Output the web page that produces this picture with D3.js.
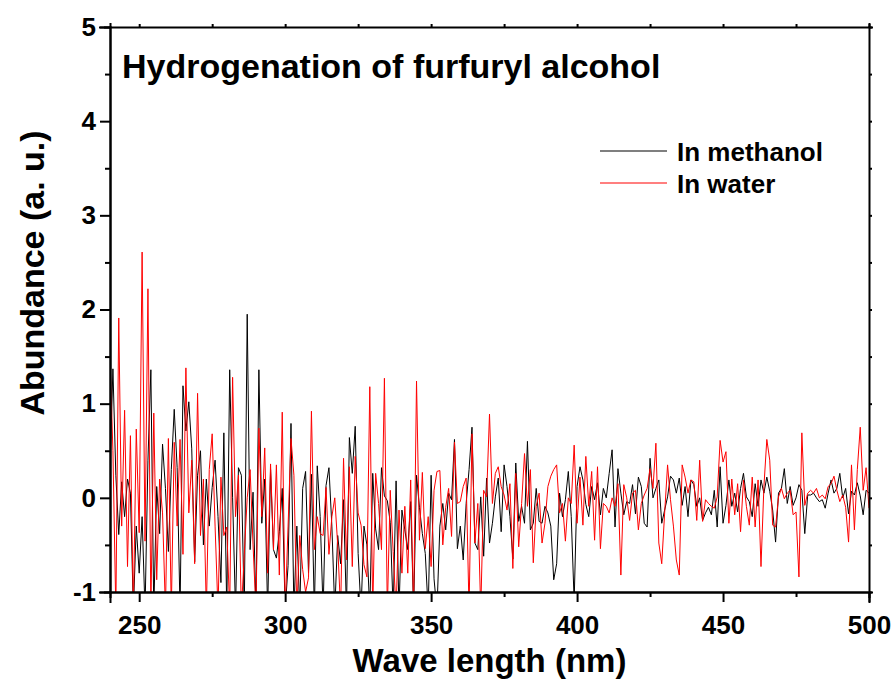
<!DOCTYPE html>
<html lang="en">
<head>
  <meta charset="UTF-8">
  <title>Hydrogenation of furfuryl alcohol</title>
  <script src="https://d3js.org/d3.v7.min.js"></script>
  <style>
    body {
      margin: 0;
      background-color: #fff;
    }
    text {
      font-family: "Liberation Sans", Arial, sans-serif;
      font-weight: bold;
      fill: #000;
    }
    .axis path, .axis line {
      stroke: #000;
      stroke-width: 2px;
    }
    .trace {
      fill: none;
      stroke-width: 1px;
    }
  </style>
</head>
<body>
  <svg id="chart" width="896" height="691"></svg>

  <script>
    // wavelength grid, 1 nm step
    const wavelengths = d3.range(240, 501, 1);

    // In methanol (black), 240..500 nm
    const methanol = [
      0.3, 1.37, 0.24, -0.39, 0.17, -0.2, 0.2, 0.05, -1.2, -0.3,
      -0.8, -0.2, -1.2, 0.4, 1.36, -1.2, 0.12, -0.38, 0.57, 0.1,
      -0.57, 0.3, 0.94, 0.32, -1.2, 1.19, 0.71, 1.02, 0.52, -0.68,
      0.24, 0.5, -0.5, 0.2, -0.3, 0.11, 0.4, -0.2, -0.9, 0.69,
      -1.2, 1.36, 0.0, -1.2, 0.32, 0.24, -1.2, 1.95, -0.55, 0.06,
      -1.2, 1.36, -0.27, 0.2, -1.2, 0.3, -0.55, -0.64, -0.36, 0.1,
      -1.2, -0.72, 0.79, -1.2, -0.3, -1.2, 0.1, 0.28, -0.8, 0.25,
      -1.2, 0.34, -0.2, -1.2, 0.13, 0.32, -0.3, -1.2, -0.4, -0.7,
      -0.02, -1.2, 0.64, 0.26, 0.76, -0.59, -1.2, -0.3, -0.5, -1.2,
      0.26, -0.33, -0.55, 0.32, 0.02, -0.03, -0.26, -1.2, 0.18, -1.2,
      -0.13, -0.34, -0.55, -0.04, -1.2, 0.24, -0.1, -0.38, -0.59, -1.2,
      0.24, -0.86, -1.2, -0.3, -0.06, -0.34, 0.05, -0.02, 0.62, -0.54,
      -0.3, -0.66, -0.06, 0.3, 0.75, -0.48, -0.55, 0.01, -0.62, 0.21,
      -0.48, -0.27, 0.01, 0.21, -0.36, 0.35, 0.12, -0.2, -0.65, 0.37,
      -0.25, -0.09, -0.27, 0.6, -0.34, -0.27, 0.1, -0.25, -0.27, -0.09,
      -0.16, -0.3, -0.87, -0.7, 0.05, -0.2, -0.02, 0.28, -0.2, -1.1,
      0.12, 0.33, 0.19, -0.07, -0.2, 0.12, -0.02, 0.16, -0.18, 0.1,
      0.0, 0.26, 0.51, -0.31, 0.31, 0.05, -0.18, -0.04, -0.06, 0.14,
      -0.17, 0.22, 0.12, -0.27, -0.31, 0.42, 0.0, 0.1, 0.19, -0.27,
      -0.13, 0.01, 0.23, 0.19, 0.05, 0.21, -0.08, 0.12, -0.2, 0.19,
      0.14, -0.09, 0.0, -0.24, -0.16, -0.1, -0.18, 0.08, -0.31, 0.33,
      -0.27, -0.08, 0.19, -0.09, 0.05, -0.15, 0.1, 0.26, 0.01, -0.04,
      -0.2, 0.15, -0.09, 0.19, 0.05, 0.22, 0.07, -0.13, -0.47, 0.05,
      0.1, 0.31, -0.06, 0.12, -0.08, 0.0, 0.14, 0.08, -0.38, 0.03,
      0.03, 0.05, 0.0, -0.04, -0.02, -0.11, 0.05, 0.19, 0.05, 0.1,
      0.26, 0.0, 0.1, -0.17, 0.07, 0.03, 0.16, 0.02, -0.18, 0.08,
      0.05
    ];

    // In water (red)
    const water = [
      1.5, 0.5, -1.2, 1.91, -0.3, 0.93, -0.73, 0.66, -1.2, 0.73,
      -0.37, 2.61, -0.46, 2.22, -1.2, 0.9, -0.87, 0.2, -0.16, -1.2,
      0.63, -1.2, 0.59, -0.3, 0.62, -0.6, 1.38, -0.16, 0.4, -0.7,
      1.11, -0.4, 0.2, -1.2, 0.3, 0.68, -0.3, -1.2, 0.22, -0.4,
      -0.31, -1.2, 1.28, -0.2, 0.24, -1.2, -0.6, 0.0, 0.3, -0.5,
      -1.2, 0.74, -0.2, 0.53, -0.8, 0.36, -0.55, 0.35, -0.82, 0.91,
      -1.2, -0.3, 0.63, 0.24, -1.2, -0.4, -0.76, -1.0, -0.85, 0.92,
      -0.55, -0.2, -0.38, -0.4, 0.11, -0.6, -0.2, 0.0, -0.5, -1.2,
      0.42, -0.66, 0.33, -0.73, 0.44, -0.16, -0.29, -0.71, -0.84, 1.18,
      -1.2, 0.26, -0.06, -0.55, 1.27, -1.2, 0.08, -0.57, -1.2, -0.13,
      -0.8, -0.09, -0.8, 0.19, -1.2, 1.24, -0.45, 0.27, -0.54, -0.2,
      -0.73, 0.08, 0.28, 0.29, -0.5, -0.1, 0.1, -0.41, 0.59, -0.06,
      -0.04, 0.12, 0.21, -1.2, 0.68, -0.48, -0.06, -1.2, 0.08, 0.01,
      0.89, -0.06, 0.26, 0.33, 0.12, 0.03, -0.13, 0.15, -0.75, 0.26,
      -0.52, -0.06, 0.47, -0.09, 0.3, -0.69, -0.09, 0.05, -0.48, -0.27,
      0.12, 0.23, 0.3, 0.35, -0.16, -0.06, -0.46, 0.0, -0.06, 0.56,
      -0.27, 0.22, -0.29, 0.44, -0.09, 0.28, -0.45, 0.33, -0.54, -0.06,
      -0.09, -0.16, 0.0, -0.09, 0.15, -0.82, 0.14, 0.0, -0.24, 0.05,
      0.08, -0.34, -0.06, 0.03, 0.1, 0.31, 0.1, 0.58, -0.48, -0.7,
      -0.16, 0.35, -0.02, -0.3, -0.66, -0.82, 0.35, 0.22, 0.05, 0.19,
      0.17, -0.24, 0.4, -0.25, -0.02, -0.06, -0.09, -0.11, 0.01, 0.61,
      0.38, 0.49, -0.27, 0.2, -0.18, 0.15, -0.36, 0.19, -0.09, -0.29,
      0.22, -0.31, 0.19, -0.73, 0.12, 0.62, 0.4, -0.29, -0.31, 0.01,
      0.1, -0.01, 0.05, 0.08, -0.18, -0.15, -0.84, 0.69, -0.08, 0.05,
      0.08, 0.05, 0.1, 0.0, 0.03, -0.01, 0.12, 0.15, 0.23, 0.08,
      -0.04, 0.03, -0.1, -0.47, 0.35, -0.34, 0.3, 0.75, 0.08, 0.32,
      -0.11
    ];

    const xMajor = [250, 300, 350, 400, 450, 500];
    const xMinor = [275, 325, 375, 425, 475];
    const yMajor = [-1, 0, 1, 2, 3, 4, 5];
    const yMinor = [-0.5, 0.5, 1.5, 2.5, 3.5, 4.5];

    const series = [
      { name: "In methanol", color: "#000000", values: methanol },
      { name: "In water", color: "#ff0000", values: water }
    ];

    const svg = d3.select("#chart");
    const plotLeft = 110, plotRight = 869, plotTop = 27, plotBottom = 592;

    const x = d3.scaleLinear().domain([240, 500]).range([plotLeft, plotRight]);
    const y = d3.scaleLinear().domain([-1, 5]).range([plotBottom, plotTop]);

    // plain hyphen for negatives, like the original
    const plainFormat = d => String(d);

    // clip the traces to the frame
    svg.append("clipPath").attr("id", "plotClip")
      .append("rect")
      .attr("x", plotLeft).attr("y", plotTop)
      .attr("width", plotRight - plotLeft).attr("height", plotBottom - plotTop);

    const line = d3.line()
      .x((d, i) => x(wavelengths[i]))
      .y(d => y(d));

    svg.append("g")
      .attr("clip-path", "url(#plotClip)")
      .selectAll(".trace")
      .data(series)
      .enter()
      .append("path")
      .attr("class", "trace")
      .attr("stroke", d => d.color)
      .attr("d", d => line(d.values));

    // bottom axis: major + minor ticks, outward
    svg.append("g")
      .attr("class", "axis")
      .attr("transform", `translate(0,${plotBottom})`)
      .call(d3.axisBottom(x).tickValues(xMinor).tickSize(5).tickFormat(""));
    const xAxis = svg.append("g")
      .attr("class", "axis")
      .attr("transform", `translate(0,${plotBottom})`)
      .call(d3.axisBottom(x).tickValues(xMajor).tickSize(10).tickPadding(7).tickFormat(plainFormat));
    xAxis.selectAll("text").style("font-size", "26px").attr("dy", "0.95em");

    // left axis
    svg.append("g")
      .attr("class", "axis")
      .attr("transform", `translate(${plotLeft},0)`)
      .call(d3.axisLeft(y).tickValues(yMinor).tickSize(5).tickFormat(""));
    const yAxis = svg.append("g")
      .attr("class", "axis")
      .attr("transform", `translate(${plotLeft},0)`)
      .call(d3.axisLeft(y).tickValues(yMajor).tickSize(10).tickPadding(4).tickFormat(plainFormat));
    yAxis.selectAll("text").style("font-size", "26px");

    // top and right frame with tiny ticks
    svg.append("g")
      .attr("class", "axis")
      .attr("transform", `translate(0,${plotTop})`)
      .call(d3.axisTop(x).tickValues(xMajor.concat(xMinor)).tickSize(3).tickFormat(""));
    svg.append("g")
      .attr("class", "axis")
      .attr("transform", `translate(${plotRight},0)`)
      .call(d3.axisRight(y).tickValues(yMajor.concat(yMinor)).tickSize(3).tickFormat(""));
    svg.selectAll(".axis .domain").attr("stroke-linecap", "square");

    // axis titles
    svg.append("text")
      .attr("x", (plotLeft + plotRight) / 2)
      .attr("y", 672)
      .attr("text-anchor", "middle")
      .style("font-size", "33px")
      .text("Wave length (nm)");

    svg.append("text")
      .attr("transform", "translate(44,273) rotate(-90)")
      .attr("text-anchor", "middle")
      .style("font-size", "34px")
      .text("Abundance (a. u.)");

    // title inside the frame
    svg.append("text")
      .attr("x", 122)
      .attr("y", 78)
      .style("font-size", "34px")
      .text("Hydrogenation of furfuryl alcohol");

    // legend
    const legend = svg.selectAll(".legend")
      .data(series)
      .enter()
      .append("g")
      .attr("class", "legend")
      .attr("transform", (d, i) => `translate(600,${151 + i * 32})`);
    legend.append("line")
      .attr("x1", 0).attr("x2", 67)
      .attr("stroke", d => d.color)
      .attr("stroke-width", 1.2);
    legend.append("text")
      .attr("x", 77)
      .attr("y", 10)
      .style("font-size", "26px")
      .text(d => d.name);
  </script>
</body>
</html>
